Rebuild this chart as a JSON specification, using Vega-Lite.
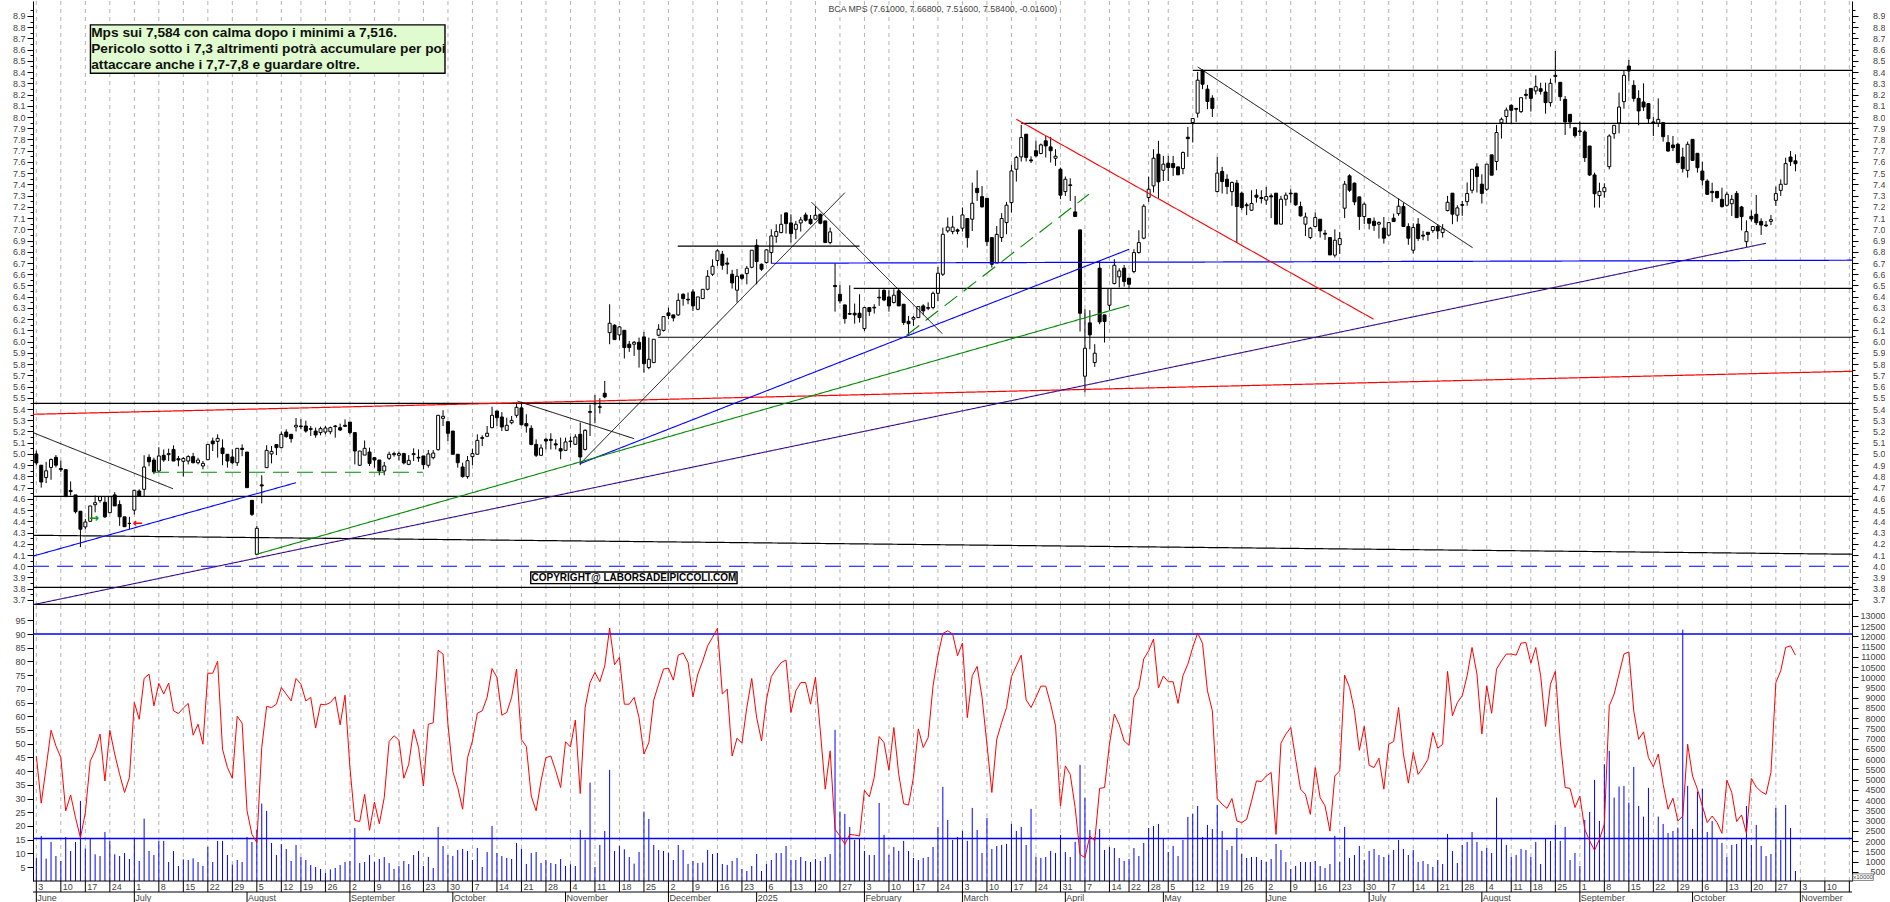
{
"$schema":"https://vega.github.io/schema/vega-lite/v6.json",
"padding":{"left":12,"top":0,"right":0,"bottom":0},
"spacing":0,
"bounds":"flush",
"config":{"view":{"stroke":null},"font":"Liberation Sans","axisX":{"disable":true},"axisY":{"disable":true}},
"datasets":{
"bars":[
{"i":0,"o":5.00,"h":5.03,"l":4.90,"c":4.92,"rsi":45.5,"vol":1190},
{"i":1,"o":4.90,"h":4.90,"l":4.70,"c":4.75,"rsi":28.3,"vol":2249},
{"i":2,"o":4.79,"h":4.93,"l":4.74,"c":4.85,"rsi":41.3,"vol":1141},
{"i":3,"o":4.88,"h":4.96,"l":4.77,"c":4.95,"rsi":54.9,"vol":1956},
{"i":4,"o":4.97,"h":4.99,"l":4.88,"c":4.90,"rsi":49.2,"vol":1271},
{"i":5,"o":4.87,"h":4.94,"l":4.84,"c":4.86,"rsi":44.9,"vol":1027},
{"i":6,"o":4.86,"h":4.86,"l":4.62,"c":4.62,"rsi":25.5,"vol":2200},
{"i":7,"o":4.675,"h":4.755,"l":4.63,"c":4.665,"rsi":31.3,"vol":1516},
{"i":8,"o":4.635,"h":4.635,"l":4.47,"c":4.486,"rsi":23,"vol":1956},
{"i":9,"o":4.49,"h":4.49,"l":4.17,"c":4.33,"rsi":15.7,"vol":3961},
{"i":10,"o":4.35,"h":4.42,"l":4.33,"c":4.394,"rsi":24.8,"vol":1630},
{"i":11,"o":4.40,"h":4.537,"l":4.40,"c":4.537,"rsi":43.7,"vol":2119},
{"i":12,"o":4.548,"h":4.63,"l":4.48,"c":4.566,"rsi":47.4,"vol":1353},
{"i":13,"o":4.585,"h":4.62,"l":4.566,"c":4.62,"rsi":53.5,"vol":1271},
{"i":14,"o":4.57,"h":4.625,"l":4.43,"c":4.44,"rsi":36.4,"vol":2445},
{"i":15,"o":4.477,"h":4.62,"l":4.477,"c":4.62,"rsi":54.9,"vol":2005},
{"i":16,"o":4.635,"h":4.66,"l":4.537,"c":4.537,"rsi":46.2,"vol":1353},
{"i":17,"o":4.55,"h":4.586,"l":4.36,"c":4.44,"rsi":38.8,"vol":1271},
{"i":18,"o":4.44,"h":4.44,"l":4.352,"c":4.352,"rsi":32.2,"vol":1418},
{"i":19,"o":4.382,"h":4.44,"l":4.33,"c":4.38,"rsi":37.7,"vol":1125},
{"i":20,"o":4.50,"h":4.676,"l":4.46,"c":4.676,"rsi":65,"vol":2135},
{"i":21,"o":4.67,"h":4.685,"l":4.625,"c":4.625,"rsi":58.9,"vol":1027},
{"i":22,"o":4.685,"h":4.988,"l":4.625,"c":4.884,"rsi":73.8,"vol":3097},
{"i":23,"o":4.97,"h":4.997,"l":4.89,"c":4.93,"rsi":75.4,"vol":1516},
{"i":24,"o":4.946,"h":4.967,"l":4.82,"c":4.84,"rsi":63.8,"vol":1320},
{"i":25,"o":4.848,"h":5.06,"l":4.84,"c":4.982,"rsi":72,"vol":2005},
{"i":26,"o":4.988,"h":5.04,"l":4.93,"c":4.946,"rsi":68.1,"vol":2005},
{"i":27,"o":4.994,"h":5.047,"l":4.937,"c":5.003,"rsi":72.1,"vol":978},
{"i":28,"o":5.04,"h":5.077,"l":4.937,"c":4.937,"rsi":62,"vol":1516},
{"i":29,"o":4.958,"h":4.982,"l":4.89,"c":4.946,"rsi":61,"vol":782},
{"i":30,"o":4.934,"h":4.97,"l":4.80,"c":4.96,"rsi":63,"vol":1108},
{"i":31,"o":4.937,"h":4.988,"l":4.907,"c":4.976,"rsi":64.7,"vol":1076},
{"i":32,"o":4.976,"h":5.01,"l":4.916,"c":4.922,"rsi":53.1,"vol":1157},
{"i":33,"o":4.922,"h":4.967,"l":4.907,"c":4.946,"rsi":57.1,"vol":978},
{"i":34,"o":4.893,"h":4.937,"l":4.863,"c":4.916,"rsi":49.8,"vol":782},
{"i":35,"o":4.949,"h":5.085,"l":4.949,"c":5.085,"rsi":75.7,"vol":1712},
{"i":36,"o":5.115,"h":5.145,"l":5.026,"c":5.09,"rsi":75.7,"vol":978},
{"i":37,"o":5.112,"h":5.175,"l":4.967,"c":5.139,"rsi":80.1,"vol":2005},
{"i":38,"o":5.053,"h":5.13,"l":4.90,"c":5.003,"rsi":48,"vol":2005},
{"i":39,"o":4.997,"h":4.997,"l":4.878,"c":4.937,"rsi":41.3,"vol":1320},
{"i":40,"o":4.973,"h":5.04,"l":4.907,"c":4.922,"rsi":37.4,"vol":848},
{"i":41,"o":4.922,"h":5.05,"l":4.893,"c":5.05,"rsi":60,"vol":1076},
{"i":42,"o":5.05,"h":5.085,"l":4.98,"c":5.04,"rsi":57.5,"vol":978},
{"i":43,"o":5.017,"h":5.017,"l":4.70,"c":4.70,"rsi":25.5,"vol":2200},
{"i":44,"o":4.587,"h":4.587,"l":4.447,"c":4.462,"rsi":16.9,"vol":1956},
{"i":45,"o":4.106,"h":4.36,"l":4.106,"c":4.338,"rsi":13.9,"vol":2543},
{"i":46,"o":4.725,"h":4.81,"l":4.56,"c":4.715,"rsi":48.6,"vol":3830},
{"i":47,"o":4.878,"h":5.077,"l":4.878,"c":5.032,"rsi":63.6,"vol":3472},
{"i":48,"o":5.0,"h":5.07,"l":4.916,"c":5.023,"rsi":63.2,"vol":1907},
{"i":49,"o":5.083,"h":5.083,"l":4.99,"c":5.056,"rsi":64.4,"vol":1320},
{"i":50,"o":5.056,"h":5.2,"l":5.05,"c":5.175,"rsi":70.5,"vol":1858},
{"i":51,"o":5.195,"h":5.219,"l":5.145,"c":5.154,"rsi":68.1,"vol":1614},
{"i":52,"o":5.175,"h":5.175,"l":5.10,"c":5.136,"rsi":65.6,"vol":1027},
{"i":53,"o":5.24,"h":5.32,"l":5.2,"c":5.255,"rsi":73.8,"vol":1809},
{"i":54,"o":5.249,"h":5.31,"l":5.22,"c":5.243,"rsi":71.7,"vol":1222},
{"i":55,"o":5.249,"h":5.296,"l":5.19,"c":5.204,"rsi":65.6,"vol":1076},
{"i":56,"o":5.225,"h":5.249,"l":5.16,"c":5.219,"rsi":66.9,"vol":831},
{"i":57,"o":5.204,"h":5.234,"l":5.145,"c":5.169,"rsi":55.7,"vol":733},
{"i":58,"o":5.19,"h":5.243,"l":5.166,"c":5.225,"rsi":64.4,"vol":636},
{"i":59,"o":5.195,"h":5.249,"l":5.175,"c":5.231,"rsi":64.2,"vol":440},
{"i":60,"o":5.198,"h":5.243,"l":5.175,"c":5.234,"rsi":65,"vol":619},
{"i":61,"o":5.249,"h":5.258,"l":5.145,"c":5.244,"rsi":67.1,"vol":685},
{"i":62,"o":5.234,"h":5.27,"l":5.204,"c":5.213,"rsi":56.9,"vol":831},
{"i":63,"o":5.255,"h":5.308,"l":5.243,"c":5.246,"rsi":67.7,"vol":978},
{"i":64,"o":5.284,"h":5.284,"l":5.175,"c":5.19,"rsi":41.3,"vol":1027},
{"i":65,"o":5.19,"h":5.19,"l":4.907,"c":5.026,"rsi":22,"vol":2641},
{"i":66,"o":4.899,"h":5.026,"l":4.893,"c":5.026,"rsi":21.6,"vol":929},
{"i":67,"o":4.99,"h":5.12,"l":4.99,"c":5.05,"rsi":31.5,"vol":978},
{"i":68,"o":5.017,"h":5.056,"l":4.893,"c":4.916,"rsi":18.4,"vol":1320},
{"i":69,"o":4.967,"h":4.973,"l":4.878,"c":4.946,"rsi":28.7,"vol":978},
{"i":70,"o":4.946,"h":4.946,"l":4.81,"c":4.848,"rsi":20.8,"vol":1125},
{"i":71,"o":4.848,"h":4.928,"l":4.81,"c":4.893,"rsi":30.3,"vol":1222},
{"i":72,"o":4.961,"h":5.02,"l":4.946,"c":4.997,"rsi":50.8,"vol":929},
{"i":73,"o":4.994,"h":5.02,"l":4.976,"c":5.003,"rsi":52.9,"vol":636},
{"i":74,"o":4.988,"h":5.02,"l":4.943,"c":5.003,"rsi":51.3,"vol":782},
{"i":75,"o":5.003,"h":5.01,"l":4.907,"c":4.92,"rsi":37.4,"vol":1027},
{"i":76,"o":4.907,"h":4.99,"l":4.9,"c":4.943,"rsi":42.5,"vol":880},
{"i":77,"o":4.994,"h":5.05,"l":4.937,"c":5.003,"rsi":55.2,"vol":1320},
{"i":78,"o":4.97,"h":5.04,"l":4.93,"c":4.964,"rsi":48.6,"vol":1516},
{"i":79,"o":4.982,"h":4.982,"l":4.863,"c":4.905,"rsi":34.6,"vol":782},
{"i":80,"o":4.899,"h":5.035,"l":4.878,"c":5.0,"rsi":57.1,"vol":1222},
{"i":81,"o":4.967,"h":5.035,"l":4.952,"c":5.008,"rsi":57.6,"vol":685},
{"i":82,"o":5.038,"h":5.344,"l":5.03,"c":5.344,"rsi":84.1,"vol":2690},
{"i":83,"o":5.317,"h":5.39,"l":5.249,"c":5.335,"rsi":82.7,"vol":1760},
{"i":84,"o":5.287,"h":5.287,"l":5.115,"c":5.184,"rsi":57.1,"vol":1320},
{"i":85,"o":5.204,"h":5.204,"l":4.997,"c":4.997,"rsi":39.8,"vol":1271},
{"i":86,"o":4.997,"h":4.997,"l":4.878,"c":4.922,"rsi":34,"vol":1565},
{"i":87,"o":4.884,"h":4.922,"l":4.789,"c":4.798,"rsi":26.1,"vol":1614},
{"i":88,"o":4.798,"h":4.982,"l":4.78,"c":4.94,"rsi":44.9,"vol":1516},
{"i":89,"o":4.976,"h":5.047,"l":4.9,"c":5.003,"rsi":51,"vol":1076},
{"i":90,"o":4.997,"h":5.175,"l":4.997,"c":5.121,"rsi":61.1,"vol":1663},
{"i":91,"o":5.145,"h":5.166,"l":5.07,"c":5.139,"rsi":62,"vol":733},
{"i":92,"o":5.157,"h":5.249,"l":5.15,"c":5.184,"rsi":66.9,"vol":1467},
{"i":93,"o":5.234,"h":5.42,"l":5.228,"c":5.344,"rsi":77.4,"vol":2738},
{"i":94,"o":5.382,"h":5.382,"l":5.249,"c":5.323,"rsi":74.2,"vol":1418},
{"i":95,"o":5.329,"h":5.373,"l":5.204,"c":5.24,"rsi":60.4,"vol":1271},
{"i":96,"o":5.21,"h":5.323,"l":5.204,"c":5.255,"rsi":61.4,"vol":1174},
{"i":97,"o":5.278,"h":5.338,"l":5.264,"c":5.299,"rsi":66.9,"vol":1125},
{"i":98,"o":5.344,"h":5.46,"l":5.323,"c":5.415,"rsi":77.2,"vol":1907},
{"i":99,"o":5.41,"h":5.457,"l":5.255,"c":5.26,"rsi":51.5,"vol":1614},
{"i":100,"o":5.27,"h":5.353,"l":5.19,"c":5.249,"rsi":49,"vol":880},
{"i":101,"o":5.228,"h":5.255,"l":5.077,"c":5.085,"rsi":30.9,"vol":1418},
{"i":102,"o":5.085,"h":5.13,"l":4.973,"c":4.988,"rsi":25.5,"vol":1467},
{"i":103,"o":4.988,"h":5.085,"l":4.982,"c":5.053,"rsi":36.4,"vol":929},
{"i":104,"o":5.13,"h":5.145,"l":5.041,"c":5.115,"rsi":44.9,"vol":1076},
{"i":105,"o":5.13,"h":5.184,"l":5.04,"c":5.121,"rsi":45.5,"vol":929},
{"i":106,"o":5.09,"h":5.13,"l":5.04,"c":5.08,"rsi":40.1,"vol":880},
{"i":107,"o":5.047,"h":5.145,"l":4.952,"c":5.026,"rsi":34,"vol":1125},
{"i":108,"o":5.032,"h":5.145,"l":5.026,"c":5.107,"rsi":50.7,"vol":782},
{"i":109,"o":5.115,"h":5.154,"l":5.056,"c":5.11,"rsi":48.8,"vol":864},
{"i":110,"o":5.086,"h":5.175,"l":5.08,"c":5.151,"rsi":58.6,"vol":782},
{"i":111,"o":5.175,"h":5.28,"l":4.90,"c":4.973,"rsi":31.8,"vol":2543},
{"i":112,"o":5.04,"h":5.22,"l":5.03,"c":5.21,"rsi":63.2,"vol":2054},
{"i":113,"o":5.377,"h":5.44,"l":5.16,"c":5.371,"rsi":72.3,"vol":4857},
{"i":114,"o":5.45,"h":5.525,"l":5.273,"c":5.445,"rsi":76,"vol":733},
{"i":115,"o":5.42,"h":5.496,"l":5.36,"c":5.416,"rsi":72.6,"vol":1809},
{"i":116,"o":5.54,"h":5.65,"l":5.496,"c":5.508,"rsi":78.4,"vol":2494},
{"i":117,"o":6.08,"h":6.333,"l":5.977,"c":6.164,"rsi":92.2,"vol":5477},
{"i":118,"o":6.146,"h":6.155,"l":6.018,"c":6.018,"rsi":78.8,"vol":1516},
{"i":119,"o":6.06,"h":6.14,"l":6.012,"c":6.131,"rsi":81.5,"vol":1760},
{"i":120,"o":6.101,"h":6.101,"l":5.85,"c":5.947,"rsi":64.4,"vol":1597},
{"i":121,"o":5.977,"h":6.006,"l":5.908,"c":5.947,"rsi":64.4,"vol":1222},
{"i":122,"o":5.977,"h":6.006,"l":5.873,"c":5.994,"rsi":66.9,"vol":897},
{"i":123,"o":5.994,"h":6.036,"l":5.769,"c":5.932,"rsi":59.5,"vol":1467},
{"i":124,"o":6.042,"h":6.086,"l":5.724,"c":5.804,"rsi":46.2,"vol":3439},
{"i":125,"o":5.769,"h":6.036,"l":5.754,"c":5.843,"rsi":50.4,"vol":3081},
{"i":126,"o":5.813,"h":6.021,"l":5.813,"c":6.021,"rsi":65.9,"vol":1809},
{"i":127,"o":6.057,"h":6.155,"l":6.05,"c":6.11,"rsi":71.7,"vol":1565},
{"i":128,"o":6.1,"h":6.223,"l":6.09,"c":6.223,"rsi":77.2,"vol":1516},
{"i":129,"o":6.256,"h":6.303,"l":6.2,"c":6.232,"rsi":77.6,"vol":1434},
{"i":130,"o":6.238,"h":6.238,"l":6.18,"c":6.211,"rsi":73.2,"vol":1076},
{"i":131,"o":6.238,"h":6.43,"l":6.23,"c":6.368,"rsi":82.3,"vol":1809},
{"i":132,"o":6.422,"h":6.43,"l":6.32,"c":6.383,"rsi":83.1,"vol":1565},
{"i":133,"o":6.377,"h":6.437,"l":6.333,"c":6.371,"rsi":79.6,"vol":880},
{"i":134,"o":6.443,"h":6.466,"l":6.273,"c":6.318,"rsi":67.1,"vol":1027},
{"i":135,"o":6.288,"h":6.398,"l":6.28,"c":6.398,"rsi":75.4,"vol":929},
{"i":136,"o":6.383,"h":6.466,"l":6.38,"c":6.466,"rsi":80.2,"vol":945},
{"i":137,"o":6.466,"h":6.636,"l":6.457,"c":6.582,"rsi":85.7,"vol":1565},
{"i":138,"o":6.6,"h":6.733,"l":6.585,"c":6.671,"rsi":88.8,"vol":1369},
{"i":139,"o":6.722,"h":6.823,"l":6.674,"c":6.808,"rsi":92.1,"vol":1418},
{"i":140,"o":6.778,"h":6.808,"l":6.64,"c":6.68,"rsi":68.1,"vol":880},
{"i":141,"o":6.70,"h":6.748,"l":6.6,"c":6.69,"rsi":69.9,"vol":831},
{"i":142,"o":6.6,"h":6.639,"l":6.472,"c":6.523,"rsi":45.5,"vol":1027},
{"i":143,"o":6.458,"h":6.647,"l":6.348,"c":6.582,"rsi":52,"vol":1174},
{"i":144,"o":6.594,"h":6.594,"l":6.546,"c":6.564,"rsi":50.2,"vol":636},
{"i":145,"o":6.606,"h":6.674,"l":6.51,"c":6.653,"rsi":63.2,"vol":538},
{"i":146,"o":6.662,"h":6.814,"l":6.653,"c":6.814,"rsi":73.8,"vol":782},
{"i":147,"o":6.858,"h":6.912,"l":6.51,"c":6.713,"rsi":59.5,"vol":1369},
{"i":148,"o":6.689,"h":6.695,"l":6.63,"c":6.645,"rsi":51,"vol":538},
{"i":149,"o":6.704,"h":6.823,"l":6.695,"c":6.817,"rsi":66,"vol":880},
{"i":150,"o":6.793,"h":7.0,"l":6.695,"c":6.941,"rsi":74.5,"vol":1076},
{"i":151,"o":6.938,"h":7.045,"l":6.88,"c":6.98,"rsi":77.2,"vol":1418},
{"i":152,"o":6.971,"h":7.134,"l":6.965,"c":7.045,"rsi":79.6,"vol":1418},
{"i":153,"o":7.146,"h":7.15,"l":6.962,"c":7.051,"rsi":80.5,"vol":1760},
{"i":154,"o":7.057,"h":7.134,"l":6.882,"c":6.962,"rsi":61.4,"vol":1076},
{"i":155,"o":7.0,"h":7.075,"l":6.912,"c":7.045,"rsi":69.3,"vol":1076},
{"i":156,"o":7.057,"h":7.11,"l":6.98,"c":7.084,"rsi":72.3,"vol":1222},
{"i":157,"o":7.128,"h":7.149,"l":7.069,"c":7.081,"rsi":72.3,"vol":1027},
{"i":158,"o":7.09,"h":7.128,"l":7.04,"c":7.051,"rsi":64.4,"vol":978},
{"i":159,"o":7.09,"h":7.208,"l":7.09,"c":7.125,"rsi":74.2,"vol":1125},
{"i":160,"o":7.134,"h":7.14,"l":7.045,"c":7.054,"rsi":54.7,"vol":1027},
{"i":161,"o":7.075,"h":7.075,"l":6.882,"c":6.882,"rsi":33.4,"vol":1222},
{"i":162,"o":6.882,"h":7.016,"l":6.867,"c":6.977,"rsi":47.4,"vol":1369},
{"i":163,"o":6.5,"h":6.695,"l":6.267,"c":6.49,"rsi":18.8,"vol":7433},
{"i":164,"o":6.422,"h":6.505,"l":6.339,"c":6.362,"rsi":16.3,"vol":3439},
{"i":165,"o":6.327,"h":6.327,"l":6.16,"c":6.205,"rsi":13.3,"vol":3325},
{"i":166,"o":6.25,"h":6.502,"l":6.238,"c":6.244,"rsi":16.9,"vol":2690},
{"i":167,"o":6.253,"h":6.339,"l":6.16,"c":6.238,"rsi":16.7,"vol":2054},
{"i":168,"o":6.253,"h":6.422,"l":6.17,"c":6.214,"rsi":16.3,"vol":2152},
{"i":169,"o":6.116,"h":6.309,"l":6.095,"c":6.303,"rsi":33,"vol":1516},
{"i":170,"o":6.303,"h":6.303,"l":6.23,"c":6.268,"rsi":30.6,"vol":1320},
{"i":171,"o":6.306,"h":6.333,"l":6.25,"c":6.3,"rsi":37.7,"vol":1320},
{"i":172,"o":6.395,"h":6.466,"l":6.318,"c":6.39,"rsi":52.6,"vol":3863},
{"i":173,"o":6.457,"h":6.466,"l":6.36,"c":6.371,"rsi":50.4,"vol":2298},
{"i":174,"o":6.398,"h":6.457,"l":6.267,"c":6.318,"rsi":40.3,"vol":1320},
{"i":175,"o":6.348,"h":6.466,"l":6.34,"c":6.413,"rsi":55.9,"vol":1712},
{"i":176,"o":6.452,"h":6.472,"l":6.318,"c":6.318,"rsi":38.8,"vol":1516},
{"i":177,"o":6.333,"h":6.333,"l":6.149,"c":6.17,"rsi":28.1,"vol":2005},
{"i":178,"o":6.181,"h":6.229,"l":6.06,"c":6.16,"rsi":27.6,"vol":1516},
{"i":179,"o":6.2,"h":6.229,"l":6.14,"c":6.214,"rsi":37.7,"vol":1174},
{"i":180,"o":6.214,"h":6.312,"l":6.21,"c":6.312,"rsi":55.4,"vol":1076},
{"i":181,"o":6.318,"h":6.333,"l":6.238,"c":6.274,"rsi":48.6,"vol":1174},
{"i":182,"o":6.303,"h":6.35,"l":6.28,"c":6.297,"rsi":52.2,"vol":1222},
{"i":183,"o":6.303,"h":6.446,"l":6.288,"c":6.43,"rsi":71.1,"vol":1712},
{"i":184,"o":6.43,"h":6.665,"l":6.36,"c":6.609,"rsi":82.1,"vol":2690},
{"i":185,"o":6.6,"h":7.015,"l":6.585,"c":6.956,"rsi":90.2,"vol":4646},
{"i":186,"o":6.986,"h":7.105,"l":6.97,"c":7.02,"rsi":91.2,"vol":3032},
{"i":187,"o":6.98,"h":7.12,"l":6.956,"c":7.02,"rsi":90,"vol":2054},
{"i":188,"o":6.995,"h":7.007,"l":6.956,"c":6.983,"rsi":82.1,"vol":2200},
{"i":189,"o":7.01,"h":7.194,"l":6.98,"c":7.128,"rsi":86.7,"vol":2494},
{"i":190,"o":7.096,"h":7.096,"l":6.837,"c":6.926,"rsi":59.5,"vol":2005},
{"i":191,"o":7.09,"h":7.416,"l":6.985,"c":7.232,"rsi":74.8,"vol":3619},
{"i":192,"o":7.365,"h":7.526,"l":7.253,"c":7.327,"rsi":78.2,"vol":2543},
{"i":193,"o":7.291,"h":7.385,"l":7.193,"c":7.2,"rsi":66.9,"vol":1418},
{"i":194,"o":7.276,"h":7.276,"l":6.85,"c":6.89,"rsi":49.8,"vol":3130},
{"i":195,"o":6.926,"h":6.926,"l":6.659,"c":6.689,"rsi":32.2,"vol":1614},
{"i":196,"o":6.70,"h":7.03,"l":6.70,"c":6.955,"rsi":51.6,"vol":1760},
{"i":197,"o":6.927,"h":7.144,"l":6.888,"c":7.096,"rsi":57.7,"vol":1809},
{"i":198,"o":7.06,"h":7.244,"l":6.956,"c":7.215,"rsi":63.2,"vol":1858},
{"i":199,"o":7.238,"h":7.574,"l":7.15,"c":7.52,"rsi":74.5,"vol":2836},
{"i":200,"o":7.535,"h":7.654,"l":7.425,"c":7.64,"rsi":78.4,"vol":2494},
{"i":201,"o":7.645,"h":7.93,"l":7.604,"c":7.817,"rsi":82.3,"vol":2690},
{"i":202,"o":7.847,"h":7.847,"l":7.604,"c":7.64,"rsi":66,"vol":1809},
{"i":203,"o":7.618,"h":7.65,"l":7.59,"c":7.61,"rsi":63.2,"vol":3570},
{"i":204,"o":7.7,"h":7.788,"l":7.64,"c":7.654,"rsi":66.9,"vol":1222},
{"i":205,"o":7.675,"h":7.764,"l":7.669,"c":7.752,"rsi":71,"vol":1174},
{"i":206,"o":7.788,"h":7.832,"l":7.64,"c":7.743,"rsi":71,"vol":1222},
{"i":207,"o":7.734,"h":7.823,"l":7.595,"c":7.7,"rsi":64.4,"vol":1516},
{"i":208,"o":7.633,"h":7.713,"l":7.565,"c":7.651,"rsi":56.5,"vol":1418},
{"i":209,"o":7.535,"h":7.55,"l":7.268,"c":7.304,"rsi":27.3,"vol":2298},
{"i":210,"o":7.336,"h":7.47,"l":7.298,"c":7.446,"rsi":41.9,"vol":1467},
{"i":211,"o":7.396,"h":7.455,"l":7.253,"c":7.39,"rsi":38.8,"vol":1222},
{"i":212,"o":7.155,"h":7.298,"l":7.114,"c":7.114,"rsi":26.7,"vol":1956},
{"i":213,"o":6.995,"h":6.995,"l":6.09,"c":6.253,"rsi":9.6,"vol":5721},
{"i":214,"o":5.692,"h":6.289,"l":5.547,"c":5.941,"rsi":8.4,"vol":4108},
{"i":215,"o":6.167,"h":6.28,"l":5.932,"c":6.06,"rsi":16.3,"vol":2543},
{"i":216,"o":5.814,"h":5.977,"l":5.775,"c":5.897,"rsi":14.5,"vol":2200},
{"i":217,"o":6.654,"h":6.72,"l":6.155,"c":6.176,"rsi":33.7,"vol":2592},
{"i":218,"o":6.238,"h":6.238,"l":5.992,"c":6.179,"rsi":34,"vol":1565},
{"i":219,"o":6.324,"h":6.473,"l":6.28,"c":6.473,"rsi":49.8,"vol":1712},
{"i":220,"o":6.517,"h":6.734,"l":6.51,"c":6.68,"rsi":60.8,"vol":1663},
{"i":221,"o":6.577,"h":6.654,"l":6.482,"c":6.63,"rsi":56.9,"vol":1174},
{"i":222,"o":6.654,"h":6.683,"l":6.49,"c":6.535,"rsi":51,"vol":1027},
{"i":223,"o":6.565,"h":6.565,"l":6.476,"c":6.511,"rsi":49.4,"vol":1125},
{"i":224,"o":6.624,"h":6.823,"l":6.609,"c":6.793,"rsi":66.9,"vol":1663},
{"i":225,"o":6.793,"h":6.992,"l":6.784,"c":6.882,"rsi":70.5,"vol":1271},
{"i":226,"o":6.921,"h":7.224,"l":6.912,"c":7.206,"rsi":80.9,"vol":1907},
{"i":227,"o":7.283,"h":7.47,"l":7.244,"c":7.357,"rsi":83.9,"vol":2641},
{"i":228,"o":7.387,"h":7.713,"l":7.328,"c":7.633,"rsi":88.2,"vol":2738},
{"i":229,"o":7.669,"h":7.788,"l":7.274,"c":7.423,"rsi":70.3,"vol":2836},
{"i":230,"o":7.526,"h":7.654,"l":7.431,"c":7.58,"rsi":74.7,"vol":2103},
{"i":231,"o":7.589,"h":7.654,"l":7.431,"c":7.55,"rsi":72.6,"vol":1467},
{"i":232,"o":7.586,"h":7.654,"l":7.476,"c":7.55,"rsi":72.6,"vol":1760},
{"i":233,"o":7.556,"h":7.556,"l":7.485,"c":7.485,"rsi":64.7,"vol":1271},
{"i":234,"o":7.541,"h":7.693,"l":7.49,"c":7.684,"rsi":74.8,"vol":2054},
{"i":235,"o":7.82,"h":7.912,"l":7.645,"c":7.808,"rsi":79,"vol":3179},
{"i":236,"o":7.951,"h":7.99,"l":7.773,"c":7.987,"rsi":85.1,"vol":3325},
{"i":237,"o":8.034,"h":8.402,"l":7.995,"c":8.328,"rsi":90.4,"vol":3716},
{"i":238,"o":8.411,"h":8.426,"l":8.248,"c":8.292,"rsi":86.6,"vol":2200},
{"i":239,"o":8.248,"h":8.286,"l":8.07,"c":8.138,"rsi":69.3,"vol":2787},
{"i":240,"o":8.168,"h":8.194,"l":8.0,"c":8.076,"rsi":62,"vol":2592},
{"i":241,"o":7.336,"h":7.645,"l":7.328,"c":7.5,"rsi":30,"vol":3765},
{"i":242,"o":7.515,"h":7.556,"l":7.319,"c":7.426,"rsi":27.9,"vol":2494},
{"i":243,"o":7.446,"h":7.49,"l":7.313,"c":7.381,"rsi":26.4,"vol":1565},
{"i":244,"o":7.336,"h":7.426,"l":7.21,"c":7.417,"rsi":30,"vol":1760},
{"i":245,"o":7.411,"h":7.44,"l":6.882,"c":7.203,"rsi":21.8,"vol":2641},
{"i":246,"o":7.322,"h":7.336,"l":7.173,"c":7.194,"rsi":21.2,"vol":1369},
{"i":247,"o":7.218,"h":7.238,"l":7.126,"c":7.21,"rsi":22.4,"vol":1174},
{"i":248,"o":7.17,"h":7.348,"l":7.164,"c":7.23,"rsi":29.1,"vol":1222},
{"i":249,"o":7.304,"h":7.357,"l":7.238,"c":7.286,"rsi":36.4,"vol":1222},
{"i":250,"o":7.283,"h":7.348,"l":7.23,"c":7.274,"rsi":36.2,"vol":1076},
{"i":251,"o":7.26,"h":7.378,"l":7.218,"c":7.292,"rsi":38.2,"vol":978},
{"i":252,"o":7.298,"h":7.319,"l":7.1,"c":7.289,"rsi":39.5,"vol":1125},
{"i":253,"o":7.322,"h":7.322,"l":7.046,"c":7.046,"rsi":16.9,"vol":1858},
{"i":254,"o":7.046,"h":7.298,"l":7.046,"c":7.268,"rsi":50.2,"vol":1565},
{"i":255,"o":7.268,"h":7.328,"l":7.21,"c":7.304,"rsi":53.5,"vol":978},
{"i":256,"o":7.322,"h":7.357,"l":7.238,"c":7.316,"rsi":55.9,"vol":636},
{"i":257,"o":7.322,"h":7.322,"l":7.21,"c":7.218,"rsi":44.3,"vol":782},
{"i":258,"o":7.203,"h":7.247,"l":7.113,"c":7.12,"rsi":33.4,"vol":978},
{"i":259,"o":7.046,"h":7.149,"l":6.94,"c":7.11,"rsi":31.5,"vol":978},
{"i":260,"o":6.927,"h":7.02,"l":6.912,"c":7.01,"rsi":24.2,"vol":978},
{"i":261,"o":7.025,"h":7.149,"l":7.02,"c":7.105,"rsi":41.3,"vol":1027},
{"i":262,"o":7.09,"h":7.09,"l":6.927,"c":6.986,"rsi":30.3,"vol":782},
{"i":263,"o":6.965,"h":6.995,"l":6.906,"c":6.957,"rsi":27.3,"vol":685},
{"i":264,"o":6.927,"h":6.927,"l":6.772,"c":6.772,"rsi":18.1,"vol":880},
{"i":265,"o":6.77,"h":7.0,"l":6.749,"c":6.903,"rsi":38.2,"vol":2249},
{"i":266,"o":6.864,"h":6.977,"l":6.78,"c":6.918,"rsi":40.1,"vol":978},
{"i":267,"o":7.188,"h":7.431,"l":7.1,"c":7.402,"rsi":75,"vol":2690},
{"i":268,"o":7.476,"h":7.49,"l":7.333,"c":7.348,"rsi":70.5,"vol":1174},
{"i":269,"o":7.411,"h":7.417,"l":7.215,"c":7.244,"rsi":62,"vol":1320},
{"i":270,"o":7.289,"h":7.289,"l":6.995,"c":7.114,"rsi":47.6,"vol":1760},
{"i":271,"o":7.114,"h":7.238,"l":7.046,"c":7.224,"rsi":56.3,"vol":1076},
{"i":272,"o":7.096,"h":7.096,"l":7.0,"c":7.054,"rsi":42.1,"vol":1516},
{"i":273,"o":7.072,"h":7.105,"l":6.986,"c":7.034,"rsi":41.3,"vol":1614},
{"i":274,"o":7.046,"h":7.07,"l":6.918,"c":7.06,"rsi":44.7,"vol":1320},
{"i":275,"o":7.01,"h":7.11,"l":6.873,"c":6.921,"rsi":33.4,"vol":1222},
{"i":276,"o":6.948,"h":7.06,"l":6.94,"c":7.06,"rsi":49.8,"vol":1320},
{"i":277,"o":7.099,"h":7.14,"l":7.066,"c":7.069,"rsi":50.8,"vol":1565},
{"i":278,"o":7.14,"h":7.274,"l":7.12,"c":7.206,"rsi":63.2,"vol":2054},
{"i":279,"o":7.203,"h":7.238,"l":7.025,"c":7.025,"rsi":46.2,"vol":1614},
{"i":280,"o":7.025,"h":7.054,"l":6.862,"c":6.921,"rsi":35.6,"vol":1320},
{"i":281,"o":6.814,"h":7.054,"l":6.784,"c":7.016,"rsi":46.8,"vol":1565},
{"i":282,"o":7.046,"h":7.1,"l":6.897,"c":6.918,"rsi":38.8,"vol":978},
{"i":283,"o":6.948,"h":6.986,"l":6.903,"c":6.94,"rsi":41.3,"vol":1027},
{"i":284,"o":6.974,"h":6.974,"l":6.897,"c":6.954,"rsi":44.3,"vol":880},
{"i":285,"o":6.989,"h":7.03,"l":6.97,"c":7.025,"rsi":54.1,"vol":733},
{"i":286,"o":7.025,"h":7.046,"l":6.912,"c":6.986,"rsi":48.3,"vol":1076},
{"i":287,"o":6.971,"h":7.046,"l":6.927,"c":7.004,"rsi":49.8,"vol":880},
{"i":288,"o":7.167,"h":7.298,"l":7.16,"c":7.241,"rsi":76.4,"vol":2347},
{"i":289,"o":7.322,"h":7.322,"l":7.046,"c":7.135,"rsi":60.2,"vol":1516},
{"i":290,"o":7.126,"h":7.215,"l":7.069,"c":7.191,"rsi":65,"vol":929},
{"i":291,"o":7.22,"h":7.253,"l":7.12,"c":7.214,"rsi":67.5,"vol":1809},
{"i":292,"o":7.247,"h":7.417,"l":7.21,"c":7.319,"rsi":74.8,"vol":1956},
{"i":293,"o":7.348,"h":7.535,"l":7.32,"c":7.535,"rsi":85.1,"vol":2445},
{"i":294,"o":7.556,"h":7.589,"l":7.328,"c":7.47,"rsi":75.4,"vol":1956},
{"i":295,"o":7.402,"h":7.49,"l":7.23,"c":7.319,"rsi":53.5,"vol":1516},
{"i":296,"o":7.357,"h":7.58,"l":7.342,"c":7.58,"rsi":71.1,"vol":1663},
{"i":297,"o":7.663,"h":7.663,"l":7.482,"c":7.482,"rsi":61.1,"vol":1418},
{"i":298,"o":7.604,"h":7.93,"l":7.526,"c":7.862,"rsi":77.2,"vol":4124},
{"i":299,"o":7.948,"h":7.995,"l":7.808,"c":7.98,"rsi":80.2,"vol":2103},
{"i":300,"o":8.005,"h":8.084,"l":7.945,"c":8.062,"rsi":82.7,"vol":1809},
{"i":301,"o":8.104,"h":8.114,"l":7.945,"c":8.06,"rsi":82.7,"vol":1222},
{"i":302,"o":8.077,"h":8.08,"l":7.956,"c":8.069,"rsi":82.3,"vol":1320},
{"i":303,"o":8.048,"h":8.172,"l":8.036,"c":8.172,"rsi":86.7,"vol":1614},
{"i":304,"o":8.202,"h":8.247,"l":8.158,"c":8.193,"rsi":86.9,"vol":1565},
{"i":305,"o":8.255,"h":8.255,"l":8.048,"c":8.166,"rsi":79.4,"vol":1222},
{"i":306,"o":8.232,"h":8.371,"l":8.2,"c":8.27,"rsi":85.1,"vol":1956},
{"i":307,"o":8.252,"h":8.306,"l":8.2,"c":8.229,"rsi":74.8,"vol":880},
{"i":308,"o":8.223,"h":8.306,"l":8.03,"c":8.128,"rsi":56.3,"vol":2103},
{"i":309,"o":8.128,"h":8.342,"l":8.092,"c":8.3,"rsi":71.7,"vol":2005},
{"i":310,"o":8.371,"h":8.588,"l":8.306,"c":8.362,"rsi":76.4,"vol":2787},
{"i":311,"o":8.309,"h":8.309,"l":8.143,"c":8.181,"rsi":51,"vol":2005},
{"i":312,"o":8.157,"h":8.187,"l":7.84,"c":7.956,"rsi":34,"vol":2690},
{"i":313,"o":8.024,"h":8.024,"l":7.9,"c":7.956,"rsi":33.7,"vol":1076},
{"i":314,"o":7.905,"h":7.905,"l":7.816,"c":7.834,"rsi":26.7,"vol":1418},
{"i":315,"o":7.876,"h":7.959,"l":7.831,"c":7.87,"rsi":30.9,"vol":782},
{"i":316,"o":7.867,"h":7.882,"l":7.6,"c":7.638,"rsi":18.8,"vol":3032},
{"i":317,"o":7.742,"h":7.742,"l":7.475,"c":7.484,"rsi":14.5,"vol":3423},
{"i":318,"o":7.484,"h":7.505,"l":7.193,"c":7.317,"rsi":11.1,"vol":4988},
{"i":319,"o":7.3,"h":7.415,"l":7.193,"c":7.338,"rsi":15.1,"vol":2983},
{"i":320,"o":7.335,"h":7.41,"l":7.282,"c":7.371,"rsi":20.6,"vol":5754},
{"i":321,"o":7.558,"h":7.846,"l":7.534,"c":7.831,"rsi":63.8,"vol":6406},
{"i":322,"o":7.852,"h":7.926,"l":7.807,"c":7.926,"rsi":68.1,"vol":4124},
{"i":323,"o":7.947,"h":8.217,"l":7.855,"c":8.089,"rsi":75.4,"vol":4662},
{"i":324,"o":8.137,"h":8.41,"l":8.074,"c":8.371,"rsi":82.7,"vol":4694},
{"i":325,"o":8.454,"h":8.508,"l":8.321,"c":8.41,"rsi":83.5,"vol":3879},
{"i":326,"o":8.282,"h":8.327,"l":8.137,"c":8.166,"rsi":62,"vol":5624},
{"i":327,"o":8.166,"h":8.238,"l":7.926,"c":8.054,"rsi":51.6,"vol":3716},
{"i":328,"o":8.134,"h":8.3,"l":8.054,"c":8.089,"rsi":54.3,"vol":3195},
{"i":329,"o":8.119,"h":8.125,"l":7.944,"c":7.985,"rsi":44.9,"vol":4597},
{"i":330,"o":7.956,"h":8.0,"l":7.831,"c":7.947,"rsi":41.6,"vol":2054},
{"i":331,"o":7.944,"h":8.166,"l":7.911,"c":7.979,"rsi":46.2,"vol":3195},
{"i":332,"o":7.95,"h":7.95,"l":7.781,"c":7.825,"rsi":35.2,"vol":2836},
{"i":333,"o":7.772,"h":7.84,"l":7.691,"c":7.697,"rsi":26.1,"vol":2396},
{"i":334,"o":7.751,"h":7.831,"l":7.697,"c":7.727,"rsi":30.1,"vol":2494},
{"i":335,"o":7.757,"h":7.772,"l":7.594,"c":7.594,"rsi":21.8,"vol":2657},
{"i":336,"o":7.644,"h":7.727,"l":7.505,"c":7.54,"rsi":23.6,"vol":12323},
{"i":337,"o":7.525,"h":7.781,"l":7.46,"c":7.757,"rsi":49.8,"vol":4694},
{"i":338,"o":7.801,"h":7.801,"l":7.61,"c":7.614,"rsi":38.2,"vol":2592},
{"i":339,"o":7.677,"h":7.677,"l":7.505,"c":7.549,"rsi":33.4,"vol":4417},
{"i":340,"o":7.519,"h":7.6,"l":7.392,"c":7.439,"rsi":27.3,"vol":4564},
{"i":341,"o":7.43,"h":7.445,"l":7.306,"c":7.312,"rsi":21.2,"vol":2445},
{"i":342,"o":7.338,"h":7.415,"l":7.243,"c":7.326,"rsi":23.6,"vol":2983},
{"i":343,"o":7.338,"h":7.338,"l":7.273,"c":7.282,"rsi":21.2,"vol":2135},
{"i":344,"o":7.267,"h":7.371,"l":7.193,"c":7.202,"rsi":17.3,"vol":1907},
{"i":345,"o":7.214,"h":7.335,"l":7.202,"c":7.312,"rsi":36.7,"vol":1222},
{"i":346,"o":7.228,"h":7.306,"l":7.119,"c":7.267,"rsi":32.2,"vol":1809},
{"i":347,"o":7.32,"h":7.341,"l":7.104,"c":7.104,"rsi":21.6,"vol":1858},
{"i":348,"o":7.199,"h":7.208,"l":6.991,"c":7.113,"rsi":24,"vol":2103},
{"i":349,"o":6.89,"h":7.08,"l":6.843,"c":6.979,"rsi":17.3,"vol":3716},
{"i":350,"o":7.116,"h":7.169,"l":7.068,"c":7.092,"rsi":37.3,"vol":1809},
{"i":351,"o":7.134,"h":7.306,"l":7.038,"c":7.059,"rsi":34.2,"vol":2787},
{"i":352,"o":7.071,"h":7.098,"l":6.95,"c":7.038,"rsi":32.5,"vol":1760},
{"i":353,"o":7.038,"h":7.074,"l":7.02,"c":7.032,"rsi":31.5,"vol":1271},
{"i":354,"o":7.071,"h":7.128,"l":7.038,"c":7.086,"rsi":39.5,"vol":1369},
{"i":355,"o":7.258,"h":7.38,"l":7.208,"c":7.318,"rsi":72.3,"vol":3619},
{"i":356,"o":7.347,"h":7.445,"l":7.297,"c":7.401,"rsi":76.6,"vol":2054},
{"i":357,"o":7.401,"h":7.638,"l":7.401,"c":7.585,"rsi":85.1,"vol":3765},
{"i":358,"o":7.644,"h":7.697,"l":7.564,"c":7.603,"rsi":85.7,"vol":2641},
{"i":359,"o":7.61,"h":7.668,"l":7.516,"c":7.584,"rsi":82.3,"vol":538}
],
"weeks":[
{"i":0,"day":"3"},{"i":5,"day":"10"},{"i":10,"day":"17"},{"i":15,"day":"24"},{"i":20,"day":"1"},{"i":25,"day":"8"},{"i":30,"day":"15"},{"i":35,"day":"22"},{"i":40,"day":"29"},{"i":45,"day":"5"},{"i":50,"day":"12"},{"i":54,"day":"19"},{"i":59,"day":"26"},{"i":64,"day":"2"},{"i":69,"day":"9"},{"i":74,"day":"16"},{"i":79,"day":"23"},{"i":84,"day":"30"},{"i":89,"day":"7"},{"i":94,"day":"14"},{"i":99,"day":"21"},{"i":104,"day":"28"},{"i":109,"day":"4"},{"i":114,"day":"11"},{"i":119,"day":"18"},{"i":124,"day":"25"},{"i":129,"day":"2"},{"i":134,"day":"9"},{"i":139,"day":"16"},{"i":144,"day":"23"},{"i":149,"day":"6"},{"i":154,"day":"13"},{"i":159,"day":"20"},{"i":164,"day":"27"},{"i":169,"day":"3"},{"i":174,"day":"10"},{"i":179,"day":"17"},{"i":184,"day":"24"},{"i":189,"day":"3"},{"i":194,"day":"10"},{"i":199,"day":"17"},{"i":204,"day":"24"},{"i":209,"day":"31"},{"i":214,"day":"7"},{"i":219,"day":"14"},{"i":223,"day":"22"},{"i":227,"day":"28"},{"i":231,"day":"5"},{"i":236,"day":"12"},{"i":241,"day":"19"},{"i":246,"day":"26"},{"i":251,"day":"2"},{"i":256,"day":"9"},{"i":261,"day":"16"},{"i":266,"day":"23"},{"i":271,"day":"30"},{"i":276,"day":"7"},{"i":281,"day":"14"},{"i":286,"day":"21"},{"i":291,"day":"28"},{"i":296,"day":"4"},{"i":301,"day":"11"},{"i":305,"day":"18"},{"i":310,"day":"25"},{"i":315,"day":"1"},{"i":320,"day":"8"},{"i":325,"day":"15"},{"i":330,"day":"22"},{"i":335,"day":"29"},{"i":340,"day":"6"},{"i":345,"day":"13"},{"i":350,"day":"20"},{"i":355,"day":"27"},{"i":360,"day":"3"},{"i":365,"day":"10"},{"i":370,"day":""}
],
"months":[
{"i":0,"month":"June"},{"i":20,"month":"July"},{"i":43,"month":"August"},{"i":64,"month":"September"},{"i":85,"month":"October"},{"i":108,"month":"November"},{"i":129,"month":"December"},{"i":147,"month":"2025"},{"i":169,"month":"February"},{"i":189,"month":"March"},{"i":210,"month":"April"},{"i":230,"month":"May"},{"i":251,"month":"June"},{"i":272,"month":"July"},{"i":295,"month":"August"},{"i":315,"month":"September"},{"i":338,"month":"October"},{"i":360,"month":"November"}
],
"lines":[
{"id":"a","hue":"black","weight":"medium","style":"solid","i":-0.68,"p":5.451},{"id":"a","hue":"black","weight":"medium","style":"solid","i":370.54,"p":5.451},
{"id":"b","hue":"black","weight":"medium","style":"solid","i":-0.68,"p":4.623},{"id":"b","hue":"black","weight":"medium","style":"solid","i":370.54,"p":4.623},
{"id":"c","hue":"black","weight":"medium","style":"solid","i":-0.68,"p":3.812},{"id":"c","hue":"black","weight":"medium","style":"solid","i":370.54,"p":3.812},
{"id":"d","hue":"black","weight":"medium","style":"solid","i":-0.68,"p":3.66},{"id":"d","hue":"black","weight":"medium","style":"solid","i":370.54,"p":3.66},
{"id":"e","hue":"black","weight":"medium","style":"solid","i":126.9,"p":6.039},{"id":"e","hue":"black","weight":"medium","style":"solid","i":370.54,"p":6.039},
{"id":"f","hue":"black","weight":"medium","style":"solid","i":166.8,"p":6.475},{"id":"f","hue":"black","weight":"medium","style":"solid","i":370.54,"p":6.475},
{"id":"g","hue":"black","weight":"medium","style":"solid","i":201,"p":7.944},{"id":"g","hue":"black","weight":"medium","style":"solid","i":370.54,"p":7.944},
{"id":"h","hue":"black","weight":"medium","style":"solid","i":236,"p":8.415},{"id":"h","hue":"black","weight":"medium","style":"solid","i":370.54,"p":8.415},
{"id":"j","hue":"black","weight":"medium","style":"solid","i":130.9,"p":6.85},{"id":"j","hue":"black","weight":"medium","style":"solid","i":168,"p":6.85},
{"id":"k","hue":"black","weight":"medium","style":"solid","i":-0.68,"p":4.276},{"id":"k","hue":"black","weight":"medium","style":"solid","i":370.54,"p":4.107},
{"id":"l","hue":"blue","weight":"medium","style":"solid","i":150,"p":6.698},{"id":"l","hue":"blue","weight":"medium","style":"solid","i":370.54,"p":6.725},
{"id":"m","hue":"red","weight":"medium","style":"solid","i":-0.68,"p":5.353},{"id":"m","hue":"red","weight":"medium","style":"solid","i":370.54,"p":5.736},
{"id":"n","hue":"blue","weight":"medium","style":"dashed","i":-0.68,"p":4.0},{"id":"n","hue":"blue","weight":"medium","style":"dashed","i":370.54,"p":4.0},
{"id":"o","hue":"green","weight":"medium","style":"dashed","i":23.8,"p":4.837},{"id":"o","hue":"green","weight":"medium","style":"dashed","i":78.9,"p":4.837},
{"id":"q","hue":"green","weight":"thin","style":"dashed","i":177.6,"p":6.057},{"id":"q","hue":"green","weight":"thin","style":"dashed","i":214.8,"p":7.312},
{"id":"r","hue":"black","weight":"hair","style":"solid","i":-0.68,"p":5.19},{"id":"r","hue":"black","weight":"hair","style":"solid","i":27.9,"p":4.69},
{"id":"s","hue":"black","weight":"hair","style":"solid","i":98.2,"p":5.47},{"id":"s","hue":"black","weight":"hair","style":"solid","i":122,"p":5.136},
{"id":"t","hue":"black","weight":"hair","style":"solid","i":111,"p":4.914},{"id":"t","hue":"black","weight":"hair","style":"solid","i":165,"p":7.326},
{"id":"u","hue":"black","weight":"hair","style":"solid","i":158.2,"p":7.242},{"id":"u","hue":"black","weight":"hair","style":"solid","i":184.9,"p":6.071},
{"id":"v","hue":"black","weight":"hair","style":"solid","i":237,"p":8.446},{"id":"v","hue":"black","weight":"hair","style":"solid","i":293.1,"p":6.837},
{"id":"w","hue":"blue","weight":"thin","style":"solid","i":-0.68,"p":4.09},{"id":"w","hue":"blue","weight":"thin","style":"solid","i":53,"p":4.744},
{"id":"x","hue":"blue","weight":"thin","style":"solid","i":111,"p":4.914},{"id":"x","hue":"blue","weight":"thin","style":"solid","i":223,"p":6.822},
{"id":"y","hue":"green","weight":"thin","style":"solid","i":45,"p":4.107},{"id":"y","hue":"green","weight":"thin","style":"solid","i":223,"p":6.324},
{"id":"z","hue":"purple","weight":"thin","style":"solid","i":-0.4,"p":3.66},{"id":"z","hue":"purple","weight":"thin","style":"solid","i":353,"p":6.876},
{"id":"aa","hue":"red","weight":"thin","style":"solid","i":200,"p":7.98},{"id":"aa","hue":"red","weight":"thin","style":"solid","i":272.9,"p":6.2}
]
},
"vconcat":[
{"width":1819,"height":604,"resolve":{"scale":{"y":"independent"}},"layer":[
{"layer":[
{"data":{"name":"weeks"},"mark":{"type":"rule","color":"#b4b4b4","strokeDash":[4,4],"strokeWidth":1},"encoding":{"x":{"field":"i","type":"quantitative","scale":{"domain":[-0.68,370.54],"nice":false,"zero":false,"padding":0}}}},
{"data":{"name":"bars"},"mark":{"type":"rule","color":"black","strokeWidth":1},"encoding":{"x":{"field":"i","type":"quantitative"},"y":{"field":"l","type":"quantitative","scale":{"domain":[3.655,9.033],"nice":false,"zero":false}},"y2":{"field":"h"}}},
{"data":{"name":"bars"},"mark":{"type":"bar","size":3,"stroke":"black","strokeWidth":1},"encoding":{"x":{"field":"i","type":"quantitative"},"y":{"field":"o","type":"quantitative"},"y2":{"field":"c"},"fill":{"condition":{"test":"datum.c>=datum.o","value":"white"},"value":"black"}}},
{"data":{"name":"lines"},"mark":{"type":"line","interpolate":"linear"},"encoding":{"x":{"field":"i","type":"quantitative"},"y":{"field":"p","type":"quantitative"},"detail":{"field":"id"},"color":{"field":"hue","type":"nominal","legend":null,"scale":{"domain":["black","red","blue","green","purple"],"range":["#000000","#ff0000","#0000ff","#008a00","#3c0a8c"]}},"strokeWidth":{"field":"weight","type":"nominal","legend":null,"scale":{"domain":["hair","thin","medium"],"range":[1,1.2,1.4]}},"strokeDash":{"field":"style","type":"nominal","legend":null,"scale":{"domain":["solid","dashed"],"range":[[1,0],[16,8]]}}}},
{"data":{"values":[{"i":11.04,"i2":83.4,"p":8.82,"p2":8.39}]},"mark":{"type":"rect","fill":"#e0fbcf","stroke":"black","strokeWidth":1.4},"encoding":{"x":{"field":"i","type":"quantitative"},"x2":{"field":"i2"},"y":{"field":"p","type":"quantitative"},"y2":{"field":"p2"}}},
{"data":{"values":[{"i":11.2,"p":8.749,"t":"Mps sui 7,584 con calma dopo i minimi a 7,516."},{"i":11.2,"p":8.607,"t":"Pericolo sotto i 7,3 altrimenti potrà accumulare per poi"},{"i":11.2,"p":8.464,"t":"attaccare anche i 7,7-7,8 e guardare oltre."}]},"mark":{"type":"text","align":"left","baseline":"middle","font":"Liberation Sans","fontWeight":"bold","fontSize":13.7,"color":"#101010"},"encoding":{"x":{"field":"i","type":"quantitative"},"y":{"field":"p","type":"quantitative"},"text":{"field":"t"}}},
{"data":{"values":[{"i":100.9,"i2":143,"p":3.949,"p2":3.845}]},"mark":{"type":"rect","fill":"white","stroke":"black","strokeWidth":1.4},"encoding":{"x":{"field":"i","type":"quantitative"},"x2":{"field":"i2"},"y":{"field":"p","type":"quantitative"},"y2":{"field":"p2"}}},
{"data":{"values":[{"i":121.95,"p":3.896,"t":"COPYRIGHT@ LABORSADEIPICCOLI.COM"}]},"mark":{"type":"text","align":"center","baseline":"middle","font":"Liberation Sans","fontWeight":"bold","fontSize":10,"color":"black"},"encoding":{"x":{"field":"i","type":"quantitative"},"y":{"field":"p","type":"quantitative"},"text":{"field":"t"}}},
{"data":{"values":[{"i":185,"p":8.962,"t":"BCA MPS (7.61000, 7.66800, 7.51600, 7.58400, -0.01600)"}]},"mark":{"type":"text","align":"center","baseline":"middle","font":"Liberation Sans","fontSize":8.8,"color":"#444444"},"encoding":{"x":{"field":"i","type":"quantitative"},"y":{"field":"p","type":"quantitative"},"text":{"field":"t"}}},
{"data":{"values":[{"i":11.7,"p":4.427,"t":"→"}]},"mark":{"type":"text","font":"DejaVu Sans","fontWeight":"bold","fontSize":12,"baseline":"middle","color":"#00a000"},"encoding":{"x":{"field":"i","type":"quantitative"},"y":{"field":"p","type":"quantitative"},"text":{"field":"t"}}},
{"data":{"values":[{"i":20.75,"p":4.385,"t":"←"}]},"mark":{"type":"text","font":"DejaVu Sans","fontWeight":"bold","fontSize":12,"baseline":"middle","color":"#ff0000"},"encoding":{"x":{"field":"i","type":"quantitative"},"y":{"field":"p","type":"quantitative"},"text":{"field":"t"}}}
]},
{"data":{"values":[{"p":5}]},"mark":{"type":"rule","opacity":0},"encoding":{"y":{"field":"p","type":"quantitative","scale":{"domain":[3.655,9.033],"nice":false,"zero":false},"axis":{"disable":false,"orient":"left","title":null,"grid":false,"domainColor":"black","tickColor":"black","labelColor":"#444444","labelFont":"Liberation Sans","labelFontSize":9,"labelPadding":2,"labelOverlap":false,"labelFlush":false,"values":[3.7,3.75,3.8,3.85,3.9,3.95,4,4.05,4.1,4.15,4.2,4.25,4.3,4.35,4.4,4.45,4.5,4.55,4.6,4.65,4.7,4.75,4.8,4.85,4.9,4.95,5,5.05,5.1,5.15,5.2,5.25,5.3,5.35,5.4,5.45,5.5,5.55,5.6,5.65,5.7,5.75,5.8,5.85,5.9,5.95,6,6.05,6.1,6.15,6.2,6.25,6.3,6.35,6.4,6.45,6.5,6.55,6.6,6.65,6.7,6.75,6.8,6.85,6.9,6.95,7,7.05,7.1,7.15,7.2,7.25,7.3,7.35,7.4,7.45,7.5,7.55,7.6,7.65,7.7,7.75,7.8,7.85,7.9,7.95,8,8.05,8.1,8.15,8.2,8.25,8.3,8.35,8.4,8.45,8.5,8.55,8.6,8.65,8.7,8.75,8.8,8.85,8.9,8.95],"labelExpr":"abs(round(datum.value*10)-datum.value*10)<0.01 ? format(datum.value,'.1f') : ''","tickSize":{"condition":{"test":"abs(round(datum.value*10)-datum.value*10)<0.01","value":6},"value":3}}}}},
{"data":{"values":[{"p":5}]},"mark":{"type":"rule","opacity":0},"encoding":{"y":{"field":"p","type":"quantitative","scale":{"domain":[3.655,9.033],"nice":false,"zero":false},"axis":{"disable":false,"orient":"right","title":null,"grid":false,"domainColor":"black","tickColor":"black","labelColor":"#444444","labelFont":"Liberation Sans","labelFontSize":9,"labelAlign":"right","labelPadding":27,"labelOverlap":false,"labelFlush":false,"values":[3.7,3.75,3.8,3.85,3.9,3.95,4,4.05,4.1,4.15,4.2,4.25,4.3,4.35,4.4,4.45,4.5,4.55,4.6,4.65,4.7,4.75,4.8,4.85,4.9,4.95,5,5.05,5.1,5.15,5.2,5.25,5.3,5.35,5.4,5.45,5.5,5.55,5.6,5.65,5.7,5.75,5.8,5.85,5.9,5.95,6,6.05,6.1,6.15,6.2,6.25,6.3,6.35,6.4,6.45,6.5,6.55,6.6,6.65,6.7,6.75,6.8,6.85,6.9,6.95,7,7.05,7.1,7.15,7.2,7.25,7.3,7.35,7.4,7.45,7.5,7.55,7.6,7.65,7.7,7.75,7.8,7.85,7.9,7.95,8,8.05,8.1,8.15,8.2,8.25,8.3,8.35,8.4,8.45,8.5,8.55,8.6,8.65,8.7,8.75,8.8,8.85,8.9,8.95],"labelExpr":"abs(round(datum.value*10)-datum.value*10)<0.01 ? format(datum.value,'.1f') : ''","tickSize":{"condition":{"test":"abs(round(datum.value*10)-datum.value*10)<0.01","value":6},"value":3}}}}}
]},
{"width":1819,"height":276,"resolve":{"scale":{"y":"independent"}},"layer":[
{"layer":[
{"data":{"name":"weeks"},"mark":{"type":"rule","color":"#b4b4b4","strokeDash":[4,4],"strokeWidth":1},"encoding":{"x":{"field":"i","type":"quantitative","scale":{"domain":[-0.68,370.54],"nice":false,"zero":false,"padding":0}}}},
{"data":{"name":"bars"},"mark":{"type":"rule","color":"#0000ff","strokeWidth":1},"encoding":{"x":{"field":"i","type":"quantitative"},"y":{"field":"vol","type":"quantitative","scale":{"domain":[49,13529],"nice":false,"zero":false},"axis":{"disable":false,"orient":"right","title":null,"grid":false,"domainColor":"black","tickColor":"black","tickSize":6,"labelColor":"#444444","labelFont":"Liberation Sans","labelFontSize":9,"labelAlign":"right","labelPadding":27,"labelOverlap":false,"labelFlush":false,"format":"d","values":[500,1000,1500,2000,2500,3000,3500,4000,4500,5000,5500,6000,6500,7000,7500,8000,8500,9000,9500,10000,10500,11000,11500,12000,12500,13000]}},"y2":{"datum":49}}}
]},
{"layer":[
{"data":{"values":[{"rsi":90},{"rsi":15.4}]},"mark":{"type":"rule","color":"#0000ff","strokeWidth":1.4},"encoding":{"y":{"field":"rsi","type":"quantitative","scale":{"domain":[-0.1,100.6],"nice":false,"zero":false}}}},
{"data":{"values":[{"rsi":-0.1}]},"mark":{"type":"rule","color":"black","strokeWidth":1.2},"encoding":{"y":{"field":"rsi","type":"quantitative"}}},
{"data":{"name":"bars"},"mark":{"type":"line","color":"#ff0000","strokeWidth":1,"interpolate":"linear"},"encoding":{"x":{"field":"i","type":"quantitative"},"y":{"field":"rsi","type":"quantitative"}}},
{"data":{"values":[{"i":370.7,"i2":374.9,"rsi":0.1,"rsi2":2.5}]},"mark":{"type":"rect","fill":"white","stroke":"#555555","strokeWidth":0.7},"encoding":{"x":{"field":"i","type":"quantitative"},"x2":{"field":"i2"},"y":{"field":"rsi","type":"quantitative"},"y2":{"field":"rsi2"}}},
{"data":{"values":[{"i":372.8,"rsi":1.25,"t":"x10000"}]},"mark":{"type":"text","font":"Liberation Sans","fontSize":6,"color":"#444444","baseline":"middle"},"encoding":{"x":{"field":"i","type":"quantitative"},"y":{"field":"rsi","type":"quantitative"},"text":{"field":"t"}}}
]},
{"data":{"values":[{"rsi":50}]},"mark":{"type":"rule","opacity":0},"encoding":{"y":{"field":"rsi","type":"quantitative","scale":{"domain":[-0.1,100.6],"nice":false,"zero":false},"axis":{"disable":false,"orient":"left","title":null,"grid":false,"domainColor":"black","tickColor":"black","tickSize":6,"labelColor":"#444444","labelFont":"Liberation Sans","labelFontSize":9,"labelPadding":2,"labelOverlap":false,"labelFlush":false,"values":[5,10,15,20,25,30,35,40,45,50,55,60,65,70,75,80,85,90,95]}}}}
]},
{"width":1819,"height":11,"layer":[
{"data":{"name":"weeks"},"mark":{"type":"rule","color":"black","strokeWidth":1},"encoding":{"x":{"field":"i","type":"quantitative","scale":{"domain":[-0.68,370.54],"nice":false,"zero":false,"padding":0}}}},
{"data":{"name":"weeks"},"mark":{"type":"text","align":"left","dx":2,"font":"Liberation Sans","fontSize":9,"color":"#444444"},"encoding":{"x":{"field":"i","type":"quantitative"},"text":{"field":"day"}}},
{"data":{"values":[{"v":0}]},"mark":{"type":"rule","color":"black","strokeWidth":1.2},"encoding":{"y":{"field":"v","type":"quantitative","scale":{"domain":[0,1]}}}}
]},
{"width":1819,"height":11,"data":{"name":"months"},"layer":[
{"mark":{"type":"rule","color":"black","strokeWidth":1},"encoding":{"x":{"field":"i","type":"quantitative","scale":{"domain":[-0.68,370.54],"nice":false,"zero":false,"padding":0}}}},
{"mark":{"type":"text","align":"left","dx":1,"font":"Liberation Sans","fontSize":9,"color":"#444444"},"encoding":{"x":{"field":"i","type":"quantitative"},"text":{"field":"month"}}}
]}
]
}
